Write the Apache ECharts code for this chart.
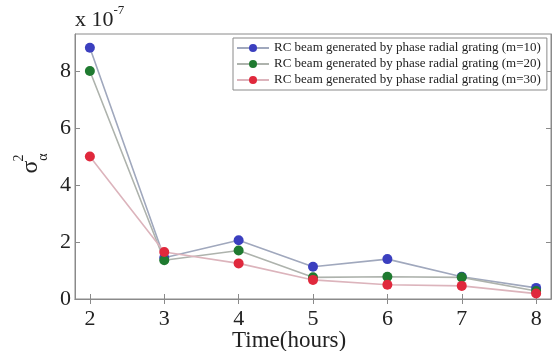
<!DOCTYPE html>
<html>
<head>
<meta charset="utf-8">
<script src="https://cdn.jsdelivr.net/npm/echarts@6/dist/echarts.min.js"></script>
<style>
  html, body { margin: 0; padding: 0; background: #fff; }
  #chart { width: 554px; height: 351px; }
</style>
</head>
<body>
<div id="chart"></div>
<script>
// time in hours
let hours = [2, 3, 4, 5, 6, 7, 8];
// sigma_alpha^2 values, in units of 1e-7
let m10 = [8.82, 1.45, 2.06, 1.13, 1.40, 0.78, 0.39];
let m20 = [8.00, 1.36, 1.70, 0.76, 0.78, 0.76, 0.28];
let m30 = [5.00, 1.65, 1.25, 0.67, 0.50, 0.46, 0.19];
let names = [
  'RC beam generated by phase radial grating (m=10)',
  'RC beam generated by phase radial grating (m=20)',
  'RC beam generated by phase radial grating (m=30)'
];
let xTicks = [2, 3, 4, 5, 6, 7, 8];
let yTicks = [0, 2, 4, 6, 8];

let serif = '"Liberation Serif", "DejaVu Serif", serif';
let axisGray = '#8a8a8a';

function pairs(ys) {
  return hours.map((h, i) => [h, ys[i]]);
}
function line(name, ys, lineColor, dotColor) {
  return {
    name: name,
    type: 'line',
    data: pairs(ys),
    symbol: 'circle',
    symbolSize: 10,
    lineStyle: { color: lineColor, width: 1.6 },
    itemStyle: { color: dotColor },
    emphasis: { disabled: true }
  };
}
// rotated piece of the y label (reads bottom to top)
function yLabelPart(txt, x, y, size) {
  return {
    type: 'text', x: x, y: y, rotation: Math.PI / 2,
    style: { text: txt, fontFamily: serif, fontSize: size, fill: '#222', align: 'center', verticalAlign: 'middle' }
  };
}

let chart = echarts.init(document.getElementById('chart'));
let option = {
  animation: false,
  backgroundColor: '#fff',
  grid: {
    left: 75, right: 3, top: 34, bottom: 52,
    outerBoundsMode: 'none',
    show: true, borderColor: axisGray, borderWidth: 1
  },
  legend: {
    left: 233, top: 38, orient: 'vertical',
    padding: [3, 6, 3, 3],
    itemGap: 2, itemWidth: 32, itemHeight: 10,
    backgroundColor: '#fff', borderColor: axisGray, borderWidth: 1,
    textStyle: { fontFamily: serif, fontSize: 13, lineHeight: 14, color: '#222' },
    data: names
  },
  xAxis: [{
    type: 'value', min: 1.8, max: 8.2,
    axisLine: { lineStyle: { color: axisGray } },
    axisTick: { inside: true, length: 5, customValues: xTicks, lineStyle: { color: axisGray } },
    axisLabel: { customValues: xTicks, fontFamily: serif, fontSize: 22, color: '#222', margin: 9 },
    splitLine: { show: false }
  }, {
    type: 'value', min: 1.8, max: 8.2, position: 'top',
    axisLine: { lineStyle: { color: axisGray } },
    axisTick: { inside: true, length: 5, customValues: xTicks, lineStyle: { color: axisGray } },
    axisLabel: { show: false },
    splitLine: { show: false }
  }],
  yAxis: [{
    type: 'value', min: 0, max: 9.3,
    axisLine: { show: true, lineStyle: { color: axisGray } },
    axisTick: { show: true, inside: true, length: 5, customValues: yTicks, lineStyle: { color: axisGray } },
    axisLabel: { customValues: yTicks, fontFamily: serif, fontSize: 22, color: '#222', margin: 4 },
    splitLine: { show: false }
  }, {
    type: 'value', min: 0, max: 9.3, position: 'right',
    axisLine: { show: true, lineStyle: { color: axisGray } },
    axisTick: { show: true, inside: true, length: 5, customValues: yTicks, lineStyle: { color: axisGray } },
    axisLabel: { show: false },
    splitLine: { show: false }
  }],
  graphic: [{
    type: 'text', left: 75, top: 4,
    style: {
      text: '{b|x 10}{s|-7}',
      rich: {
        b: { fontFamily: serif, fontSize: 22, fill: '#222', verticalAlign: 'bottom' },
        s: { fontFamily: serif, fontSize: 13, fill: '#222', verticalAlign: 'top', padding: [0, 0, 14, 0] }
      }
    }
  }, {
    type: 'text', left: 232, top: 329,
    style: { text: 'Time(hours)', fontFamily: serif, fontSize: 23, fill: '#222' }
  },
    yLabelPart('σ', 31, 167, 24),
    yLabelPart('2', 19, 158, 14),
    yLabelPart('α', 43, 157, 14)
  ],
  series: [
    line(names[0], m10, '#a0a8bd', '#3b3fbf'),
    line(names[1], m20, '#aeb3ad', '#1f7a30'),
    line(names[2], m30, '#dcb4bc', '#e0283c')
  ]
};
chart.setOption(option);
</script>
</body>
</html>
